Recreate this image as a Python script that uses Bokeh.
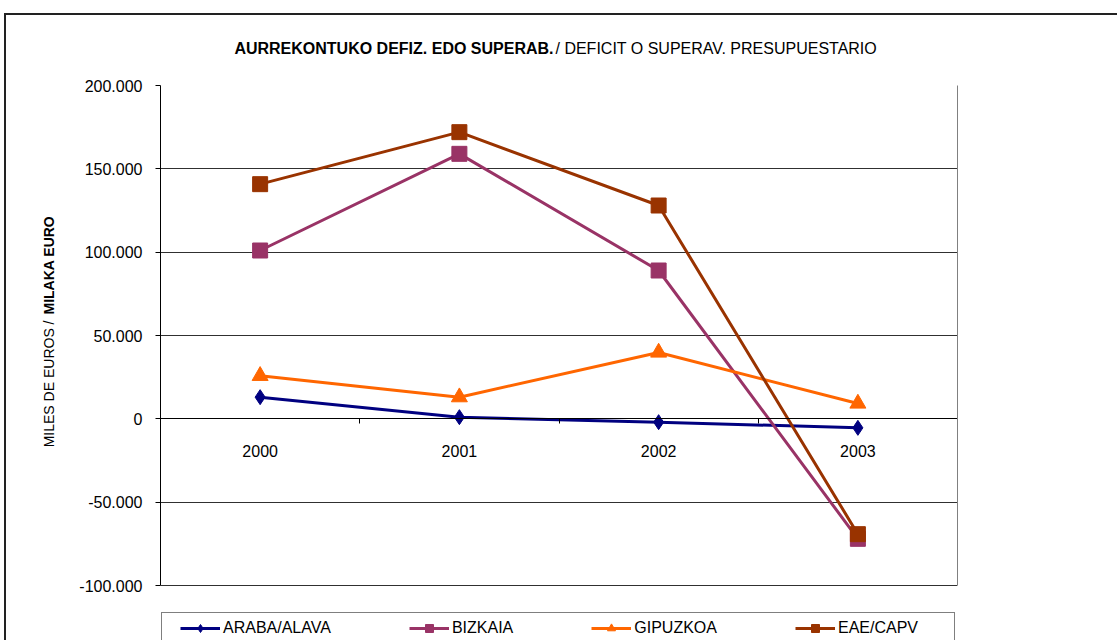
import math
from bokeh.plotting import figure
from bokeh.models import (FixedTicker, Label, Legend, LegendItem, Range1d, LinearAxis)
from bokeh.embed import file_html
from bokeh.resources import INLINE

# ---- data ----
years = ["2000", "2001", "2002", "2003"]
araba = [13000, 1000, -2000, -5400]
bizkaia = [101000, 159000, 89000, -72000]
gipuzkoa = [25800, 13000, 39800, 9200]
eae = [140800, 172000, 128000, -69200]
series_names = ["ARABA/ALAVA", "BIZKAIA", "GIPUZKOA", "EAE/CAPV"]
y_ticks = [-100000, -50000, 0, 50000, 100000, 150000, 200000]
y_tick_labels = ["-100.000", "-50.000", "0", "50.000", "100.000", "150.000", "200.000"]
title_bold = "AURREKONTUKO DEFIZ. EDO SUPERAB."
title_normal = "/ DEFICIT O SUPERAV. PRESUPUESTARIO"
ylabel_normal = "MILES DE EUROS /"
ylabel_bold = "MILAKA EURO"

FONT = "Liberation Sans"
xpos = list(range(len(years)))

# geometry (pixels): plot area 160..957 x 85..585; frame runs to the page bottom
FL, FT, FR, FB = 160, 85, 957, 585
W, H = 1117, 640
YMIN, YMAX = -100000, 200000
XMIN, XMAX = -0.5, len(years) - 0.5


def px_x(px):
    return XMIN + (px - FL) / (FR - FL) * (XMAX - XMIN)


def px_y(py):
    return YMAX - (py - FT) / (FB - FT) * (YMAX - YMIN)


p = figure(width=W, height=H, output_backend="svg", toolbar_location=None,
           x_range=Range1d(XMIN, XMAX), y_range=Range1d(px_y(H), YMAX),
           min_border_left=FL, min_border_right=W - FR, min_border_top=FT, min_border_bottom=0)
p.background_fill_color = "white"
p.border_fill_alpha = 0
p.outline_line_color = None
# outer chart border (top and left edges visible, the rest runs off the page)
p.styles = {"background": "linear-gradient(#222,#222) 4px 13px / 1300px 2px no-repeat, "
                          "linear-gradient(#222,#222) 4px 13px / 2px 800px no-repeat, white"}

# y axis
p.yaxis.bounds = (YMIN, YMAX)
p.yaxis.ticker = FixedTicker(ticks=y_ticks, minor_ticks=[])
p.yaxis.major_label_overrides = {t: l for t, l in zip(y_ticks, y_tick_labels)}
p.yaxis.major_label_text_font = FONT
p.yaxis.major_label_text_font_size = "16px"
p.yaxis.major_label_text_color = "black"
p.yaxis.major_tick_out = 5
p.yaxis.major_tick_in = 0
p.yaxis.major_tick_line_color = "black"
p.yaxis.major_label_standoff = 13
p.yaxis.axis_line_color = "black"
p.ygrid.ticker = FixedTicker(ticks=y_ticks)
p.ygrid.grid_line_color = "#303030"
p.ygrid.grid_line_width = 1
p.xgrid.grid_line_color = None

# right edge of the plot area
ra = LinearAxis(bounds=(YMIN, YMAX), ticker=FixedTicker(ticks=[]), axis_line_color="#808080",
                major_tick_line_color=None, minor_tick_line_color=None,
                major_label_text_font_size="0px")
p.add_layout(ra, "right")

# x axis at zero
xa = p.xaxis[0]
xa.fixed_location = 0
xa.bounds = (XMIN, XMAX)
xa.ticker = FixedTicker(ticks=xpos, minor_ticks=[i - 0.5 for i in range(len(years) + 1)])
xa.major_label_overrides = {i: y for i, y in zip(xpos, years)}
xa.major_tick_out = 0
xa.major_tick_in = 0
xa.minor_tick_out = 5
xa.minor_tick_in = 0
xa.minor_tick_line_color = "black"
xa.axis_line_color = "black"
xa.major_label_standoff = 21
xa.major_label_text_font = FONT
xa.major_label_text_font_size = "16px"
xa.major_label_text_color = "black"

# invisible helper renderer for the box-only legend
ghost = p.scatter(x=[], y=[], size=0, fill_alpha=0, line_alpha=0)

# series
colors = ["#000080", "#993366", "#FF6600", "#993300"]
markers = ["diamond", "square", "triangle", "square"]
sizes = [15, 15, 16, 15]
items = []
for name, vals, c, m, s in zip(series_names, [araba, bizkaia, gipuzkoa, eae], colors, markers, sizes):
    r1 = p.line(xpos, vals, line_color=c, line_width=3)
    r2 = p.scatter(xpos, vals, marker=m, size=s, fill_color=c, line_color=c)
    items.append(LegendItem(label=name, renderers=[r1, r2]))

# legend frame box
lbox = Legend(items=[LegendItem(label=" ", renderers=[ghost])], location=(1, H - 644),
              padding=0, margin=0, glyph_width=0, glyph_height=30, label_width=792, label_height=30,
              label_standoff=0, border_line_color="black", border_line_width=1,
              background_fill_color="white", background_fill_alpha=1, label_text_alpha=0)
p.add_layout(lbox)

# legend entries
legend = Legend(items=items, orientation="horizontal", location=(180 - FL, H - 638),
                padding=0, margin=0, spacing=78, glyph_width=40, glyph_height=20, label_height=20,
                label_standoff=3, label_text_font=FONT, label_text_font_size="16px",
                label_text_color="black", border_line_alpha=0, background_fill_alpha=0)
p.add_layout(legend)

# title (two weights) in the top panel
p.add_layout(Label(x=px_x(553), y=px_y(48), text=title_bold,
                   text_font=FONT, text_font_size="16px", text_font_style="bold",
                   text_align="right", text_baseline="middle", text_color="black"), "above")
p.add_layout(Label(x=px_x(555), y=px_y(48), text=title_normal,
                   text_font=FONT, text_font_size="16px",
                   text_align="left", text_baseline="middle", text_color="black"), "above")

# y axis title (two weights) in the left panel
p.add_layout(Label(x=px_x(48), y=px_y(320), text=ylabel_normal, angle=math.pi / 2,
                   text_font=FONT, text_font_size="14px",
                   text_align="right", text_baseline="middle", text_color="black"), "left")
p.add_layout(Label(x=px_x(48), y=px_y(314), text=ylabel_bold, angle=math.pi / 2,
                   text_font=FONT, text_font_size="14px", text_font_style="bold",
                   text_align="left", text_baseline="middle", text_color="black"), "left")

open("out.html", "w").write(file_html(p, INLINE))
